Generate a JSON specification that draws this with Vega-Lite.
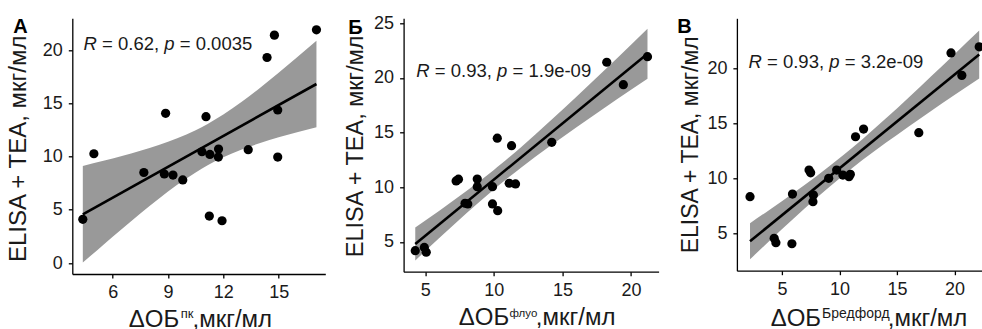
{
  "$schema": "https://vega.github.io/schema/vega-lite/v6.json",
  "background": "white",
  "padding": {"left": 6.3, "top": 14.3, "right": 0, "bottom": 0},
  "bounds": "flush",
  "spacing": 78.3,
  "config": {
    "view": {"stroke": null},
    "font": "Liberation Sans",
    "axis": {
      "grid": false,
      "domainColor": "#000000",
      "domainWidth": 1.3,
      "tickColor": "#000000",
      "tickWidth": 1.3,
      "tickSize": 4,
      "labelFont": "Liberation Sans",
      "labelFontSize": 18,
      "labelColor": "#1a1a1a",
      "labelPadding": 6,
      "labelOverlap": false,
      "labelFlush": false,
      "titleFont": "Liberation Sans",
      "titleFontSize": 24,
      "titleFontWeight": "normal",
      "titleColor": "#1a1a1a"
    },
    "title": {"font": "Liberation Sans", "fontSize": 20, "fontWeight": "bold", "color": "#000000"}
  },
  "datasets": {
    "ptsA": [
      {"x": 4.38, "y": 4.10}, {"x": 4.98, "y": 10.26}, {"x": 7.69, "y": 8.50}, {"x": 8.87, "y": 14.06},
      {"x": 8.80, "y": 8.36}, {"x": 9.27, "y": 8.26}, {"x": 9.80, "y": 7.80}, {"x": 11.06, "y": 13.74},
      {"x": 10.84, "y": 10.45}, {"x": 11.27, "y": 10.20}, {"x": 11.24, "y": 4.41}, {"x": 11.74, "y": 10.70},
      {"x": 11.73, "y": 9.95}, {"x": 11.93, "y": 3.97}, {"x": 13.35, "y": 10.64}, {"x": 14.37, "y": 19.30},
      {"x": 14.77, "y": 21.40}, {"x": 14.95, "y": 14.37}, {"x": 14.95, "y": 9.95}, {"x": 17.05, "y": 21.90}
    ],
    "bandA": [
      {"x": 4.38, "lo": 0.04, "hi": 9.12}, {"x": 5.5, "lo": 1.72, "hi": 9.60}, {"x": 6.5, "lo": 3.20, "hi": 10.05},
      {"x": 7.5, "lo": 4.65, "hi": 10.54}, {"x": 8.5, "lo": 6.03, "hi": 11.08}, {"x": 9.5, "lo": 7.34, "hi": 11.71},
      {"x": 10.5, "lo": 8.50, "hi": 12.47}, {"x": 11.15, "lo": 9.17, "hi": 13.06}, {"x": 12, "lo": 9.93, "hi": 13.94},
      {"x": 13, "lo": 10.66, "hi": 15.14}, {"x": 14, "lo": 11.27, "hi": 16.47}, {"x": 15, "lo": 11.80, "hi": 17.87},
      {"x": 16, "lo": 12.28, "hi": 19.32}, {"x": 17.05, "lo": 12.74, "hi": 20.88}
    ],
    "annA": [{"x": 4.42, "y": 20.0, "s1": "R", "s2": "= 0.62,", "s3": "p", "s4": "= 0.0035"}],
    "ptsB": [
      {"x": 4.27, "y": 4.20}, {"x": 4.93, "y": 4.50}, {"x": 5.07, "y": 4.06}, {"x": 7.25, "y": 10.58},
      {"x": 7.42, "y": 10.74}, {"x": 7.90, "y": 8.54}, {"x": 8.10, "y": 8.48}, {"x": 8.79, "y": 10.76},
      {"x": 8.79, "y": 10.06}, {"x": 9.90, "y": 10.06}, {"x": 9.90, "y": 8.48}, {"x": 10.28, "y": 7.86},
      {"x": 10.25, "y": 14.49}, {"x": 11.12, "y": 10.37}, {"x": 11.29, "y": 13.81}, {"x": 11.58, "y": 10.31},
      {"x": 14.22, "y": 14.12}, {"x": 18.23, "y": 21.44}, {"x": 19.44, "y": 19.39}, {"x": 21.20, "y": 21.95}
    ],
    "bandB": [
      {"x": 4.27, "lo": 3.30, "hi": 6.32}, {"x": 6, "lo": 5.34, "hi": 7.84}, {"x": 8, "lo": 7.63, "hi": 9.66},
      {"x": 10, "lo": 9.81, "hi": 11.59}, {"x": 10.5, "lo": 10.33, "hi": 12.10}, {"x": 12, "lo": 11.82, "hi": 13.69},
      {"x": 14, "lo": 13.69, "hi": 15.94}, {"x": 16, "lo": 15.47, "hi": 18.27}, {"x": 18, "lo": 17.21, "hi": 20.65},
      {"x": 20, "lo": 18.92, "hi": 23.05}, {"x": 21.2, "lo": 19.94, "hi": 24.50}
    ],
    "annB": [{"x": 4.35, "y": 20.12, "s1": "R", "s2": "= 0.93,", "s3": "p", "s4": "= 1.9e-09"}],
    "ptsC": [
      {"x": 2.23, "y": 8.33}, {"x": 4.33, "y": 4.55}, {"x": 4.48, "y": 4.15}, {"x": 5.87, "y": 4.05},
      {"x": 5.92, "y": 8.57}, {"x": 7.36, "y": 10.75}, {"x": 7.50, "y": 10.50}, {"x": 7.74, "y": 8.48},
      {"x": 7.70, "y": 7.87}, {"x": 9.07, "y": 10.00}, {"x": 9.76, "y": 10.75}, {"x": 10.30, "y": 10.30},
      {"x": 10.83, "y": 10.15}, {"x": 10.95, "y": 10.36}, {"x": 11.40, "y": 13.78}, {"x": 12.10, "y": 14.48},
      {"x": 16.90, "y": 14.15}, {"x": 19.70, "y": 21.40}, {"x": 20.64, "y": 19.36}, {"x": 22.15, "y": 21.96}
    ],
    "bandC": [
      {"x": 2.23, "lo": 2.64, "hi": 5.92}, {"x": 4, "lo": 4.39, "hi": 7.19}, {"x": 6, "lo": 6.32, "hi": 8.66},
      {"x": 8, "lo": 8.20, "hi": 10.19}, {"x": 10.35, "lo": 10.29, "hi": 12.11}, {"x": 12, "lo": 11.66, "hi": 13.56},
      {"x": 14, "lo": 13.21, "hi": 15.41}, {"x": 16, "lo": 14.70, "hi": 17.33}, {"x": 18, "lo": 16.15, "hi": 19.30},
      {"x": 20, "lo": 17.57, "hi": 21.29}, {"x": 22.15, "lo": 19.08, "hi": 23.44}
    ],
    "annC": [{"x": 2.10, "y": 20.06, "s1": "R", "s2": "= 0.93,", "s3": "p", "s4": "= 3.2e-09"}]
  },
  "hconcat": [
    {
      "width": 253,
      "height": 255.7,
      "title": {"text": "А", "anchor": "start", "frame": "group", "offset": 0, "baseline": "alphabetic", "dx": -59, "dy": 35},
      "resolve": {"axis": {"x": "independent"}},
      "layer": [
        {
          "data": {"name": "bandA"},
          "mark": {"type": "area", "color": "#999999", "opacity": 1, "interpolate": "monotone"},
          "encoding": {
            "x": {"field": "x", "type": "quantitative", "scale": {"domain": [3.81, 17.53], "nice": false, "zero": false},
                  "axis": {"values": [6, 9, 12, 15], "title": "ΔОБ\u00a0\u00a0,мкг/мл", "titleX": 56, "titleY": 53, "titleAlign": "left", "titleBaseline": "alphabetic"}},
            "y": {"field": "lo", "type": "quantitative", "title": "ELISA + TEA, мкг/мл", "scale": {"domain": [-1.03, 22.98], "nice": false, "zero": false},
                  "axis": {"values": [0, 5, 10, 15, 20], "titleX": -46.5, "titleY": 130, "titleAngle": 270, "titleAlign": "center", "titleBaseline": "alphabetic"}},
            "y2": {"field": "hi"}
          }
        },
        {
          "data": {"name": "ptsA"},
          "mark": {"type": "circle", "size": 85, "color": "#000000", "opacity": 1},
          "encoding": {
            "x": {"field": "x", "type": "quantitative", "axis": null},
            "y": {"field": "y", "type": "quantitative", "title": "ELISA + TEA, мкг/мл"}
          }
        },
        {
          "data": {"name": "ptsA"},
          "transform": [{"regression": "y", "on": "x"}],
          "mark": {"type": "line", "color": "#000000", "strokeWidth": 2.6},
          "encoding": {
            "x": {"field": "x", "type": "quantitative",
                  "axis": {"orient": "bottom", "domain": false, "ticks": false, "labels": false, "title": "пк", "titleFontSize": 13, "titleX": 108, "titleY": 44, "titleAlign": "left", "titleBaseline": "alphabetic"}},
            "y": {"field": "y", "type": "quantitative", "title": "ELISA + TEA, мкг/мл"}
          }
        },
        {
          "data": {"name": "annA"},
          "mark": {"type": "text", "fontSize": 18.5, "fontStyle": "italic", "align": "left", "baseline": "alphabetic", "color": "#1a1a1a"},
          "encoding": {"x": {"field": "x", "type": "quantitative", "axis": null}, "y": {"field": "y", "type": "quantitative", "title": "ELISA + TEA, мкг/мл"}, "text": {"field": "s1"}}
        },
        {
          "data": {"name": "annA"},
          "mark": {"type": "text", "fontSize": 18.5, "align": "left", "baseline": "alphabetic", "dx": 18.5, "color": "#1a1a1a"},
          "encoding": {"x": {"field": "x", "type": "quantitative", "axis": null}, "y": {"field": "y", "type": "quantitative", "title": "ELISA + TEA, мкг/мл"}, "text": {"field": "s2"}}
        },
        {
          "data": {"name": "annA"},
          "mark": {"type": "text", "fontSize": 18.5, "fontStyle": "italic", "align": "left", "baseline": "alphabetic", "dx": 80.7, "color": "#1a1a1a"},
          "encoding": {"x": {"field": "x", "type": "quantitative", "axis": null}, "y": {"field": "y", "type": "quantitative", "title": "ELISA + TEA, мкг/мл"}, "text": {"field": "s3"}}
        },
        {
          "data": {"name": "annA"},
          "mark": {"type": "text", "fontSize": 18.5, "align": "left", "baseline": "alphabetic", "dx": 96.2, "color": "#1a1a1a"},
          "encoding": {"x": {"field": "x", "type": "quantitative", "axis": null}, "y": {"field": "y", "type": "quantitative", "title": "ELISA + TEA, мкг/мл"}, "text": {"field": "s4"}}
        }
      ]
    },
    {
      "width": 255,
      "height": 253.4,
      "title": {"text": "Б", "anchor": "start", "frame": "group", "offset": 0, "baseline": "alphabetic", "dx": -55.3, "dy": 39.3},
      "resolve": {"axis": {"x": "independent"}},
      "layer": [
        {
          "data": {"name": "bandB"},
          "mark": {"type": "area", "color": "#999999", "opacity": 1, "interpolate": "monotone"},
          "encoding": {
            "x": {"field": "x", "type": "quantitative", "scale": {"domain": [3.42, 22.01], "nice": false, "zero": false},
                  "axis": {"values": [5, 10, 15, 20], "title": "ΔОБ\u00a0\u00a0\u00a0\u00a0,мкг/мл", "titleX": 54.7, "titleY": 53.3, "titleAlign": "left", "titleBaseline": "alphabetic"}},
            "y": {"field": "lo", "type": "quantitative", "title": "ELISA + TEA, мкг/мл", "scale": {"domain": [2.28, 25.46], "nice": false, "zero": false},
                  "axis": {"values": [5, 10, 15, 20, 25], "titleX": -41.3, "titleY": 127.5, "titleAngle": 270, "titleAlign": "center", "titleBaseline": "alphabetic", "titleFontSize": 23.5}},
            "y2": {"field": "hi"}
          }
        },
        {
          "data": {"name": "ptsB"},
          "mark": {"type": "circle", "size": 85, "color": "#000000", "opacity": 1},
          "encoding": {
            "x": {"field": "x", "type": "quantitative", "axis": null},
            "y": {"field": "y", "type": "quantitative", "title": "ELISA + TEA, мкг/мл"}
          }
        },
        {
          "data": {"name": "ptsB"},
          "transform": [{"regression": "y", "on": "x"}],
          "mark": {"type": "line", "color": "#000000", "strokeWidth": 2.6},
          "encoding": {
            "x": {"field": "x", "type": "quantitative",
                  "axis": {"orient": "bottom", "domain": false, "ticks": false, "labels": false, "title": "флуо", "titleFontSize": 11.5, "titleX": 105.3, "titleY": 44.5, "titleAlign": "left", "titleBaseline": "alphabetic"}},
            "y": {"field": "y", "type": "quantitative", "title": "ELISA + TEA, мкг/мл"}
          }
        },
        {
          "data": {"name": "annB"},
          "mark": {"type": "text", "fontSize": 18.5, "fontStyle": "italic", "align": "left", "baseline": "alphabetic", "color": "#1a1a1a"},
          "encoding": {"x": {"field": "x", "type": "quantitative", "axis": null}, "y": {"field": "y", "type": "quantitative", "title": "ELISA + TEA, мкг/мл"}, "text": {"field": "s1"}}
        },
        {
          "data": {"name": "annB"},
          "mark": {"type": "text", "fontSize": 18.5, "align": "left", "baseline": "alphabetic", "dx": 18.5, "color": "#1a1a1a"},
          "encoding": {"x": {"field": "x", "type": "quantitative", "axis": null}, "y": {"field": "y", "type": "quantitative", "title": "ELISA + TEA, мкг/мл"}, "text": {"field": "s2"}}
        },
        {
          "data": {"name": "annB"},
          "mark": {"type": "text", "fontSize": 18.5, "fontStyle": "italic", "align": "left", "baseline": "alphabetic", "dx": 80.7, "color": "#1a1a1a"},
          "encoding": {"x": {"field": "x", "type": "quantitative", "axis": null}, "y": {"field": "y", "type": "quantitative", "title": "ELISA + TEA, мкг/мл"}, "text": {"field": "s3"}}
        },
        {
          "data": {"name": "annB"},
          "mark": {"type": "text", "fontSize": 18.5, "align": "left", "baseline": "alphabetic", "dx": 96.2, "color": "#1a1a1a"},
          "encoding": {"x": {"field": "x", "type": "quantitative", "axis": null}, "y": {"field": "y", "type": "quantitative", "title": "ELISA + TEA, мкг/мл"}, "text": {"field": "s4"}}
        }
      ]
    },
    {
      "width": 245.3,
      "height": 252.4,
      "title": {"text": "В", "anchor": "start", "frame": "group", "offset": 0, "baseline": "alphabetic", "dx": -59.7, "dy": 34.6},
      "resolve": {"axis": {"x": "independent"}},
      "layer": [
        {
          "data": {"name": "bandC"},
          "mark": {"type": "area", "color": "#999999", "opacity": 1, "interpolate": "monotone"},
          "encoding": {
            "x": {"field": "x", "type": "quantitative", "scale": {"domain": [1.09, 22.41], "nice": false, "zero": false},
                  "axis": {"values": [5, 10, 15, 20], "title": "ΔОБ\u00a0\u00a0\u00a0\u00a0\u00a0\u00a0\u00a0\u00a0\u00a0\u00a0,мкг/мл", "titleX": 33.3, "titleY": 55.3, "titleAlign": "left", "titleBaseline": "alphabetic"}},
            "y": {"field": "lo", "type": "quantitative", "title": "ELISA + TEA, мкг/мл", "scale": {"domain": [1.6, 24.55], "nice": false, "zero": false},
                  "axis": {"values": [5, 10, 15, 20], "titleX": -39.7, "titleY": 126, "titleAngle": 270, "titleAlign": "center", "titleBaseline": "alphabetic", "titleFontSize": 23}},
            "y2": {"field": "hi"}
          }
        },
        {
          "data": {"name": "ptsC"},
          "mark": {"type": "circle", "size": 85, "color": "#000000", "opacity": 1},
          "encoding": {
            "x": {"field": "x", "type": "quantitative", "axis": null},
            "y": {"field": "y", "type": "quantitative", "title": "ELISA + TEA, мкг/мл"}
          }
        },
        {
          "data": {"name": "ptsC"},
          "transform": [{"regression": "y", "on": "x"}],
          "mark": {"type": "line", "color": "#000000", "strokeWidth": 2.6},
          "encoding": {
            "x": {"field": "x", "type": "quantitative",
                  "axis": {"orient": "bottom", "domain": false, "ticks": false, "labels": false, "title": "Бредфорд", "titleFontSize": 14, "titleX": 84.7, "titleY": 47, "titleAlign": "left", "titleBaseline": "alphabetic"}},
            "y": {"field": "y", "type": "quantitative", "title": "ELISA + TEA, мкг/мл"}
          }
        },
        {
          "data": {"name": "annC"},
          "mark": {"type": "text", "fontSize": 18.5, "fontStyle": "italic", "align": "left", "baseline": "alphabetic", "color": "#1a1a1a"},
          "encoding": {"x": {"field": "x", "type": "quantitative", "axis": null}, "y": {"field": "y", "type": "quantitative", "title": "ELISA + TEA, мкг/мл"}, "text": {"field": "s1"}}
        },
        {
          "data": {"name": "annC"},
          "mark": {"type": "text", "fontSize": 18.5, "align": "left", "baseline": "alphabetic", "dx": 18.5, "color": "#1a1a1a"},
          "encoding": {"x": {"field": "x", "type": "quantitative", "axis": null}, "y": {"field": "y", "type": "quantitative", "title": "ELISA + TEA, мкг/мл"}, "text": {"field": "s2"}}
        },
        {
          "data": {"name": "annC"},
          "mark": {"type": "text", "fontSize": 18.5, "fontStyle": "italic", "align": "left", "baseline": "alphabetic", "dx": 80.7, "color": "#1a1a1a"},
          "encoding": {"x": {"field": "x", "type": "quantitative", "axis": null}, "y": {"field": "y", "type": "quantitative", "title": "ELISA + TEA, мкг/мл"}, "text": {"field": "s3"}}
        },
        {
          "data": {"name": "annC"},
          "mark": {"type": "text", "fontSize": 18.5, "align": "left", "baseline": "alphabetic", "dx": 96.2, "color": "#1a1a1a"},
          "encoding": {"x": {"field": "x", "type": "quantitative", "axis": null}, "y": {"field": "y", "type": "quantitative", "title": "ELISA + TEA, мкг/мл"}, "text": {"field": "s4"}}
        }
      ]
    }
  ]
}
